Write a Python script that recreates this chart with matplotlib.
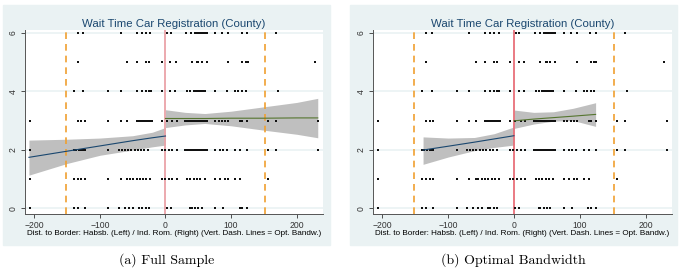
import matplotlib.pyplot as plt
from matplotlib.patches import Rectangle

plt.rcParams['font.family'] = ['Liberation Sans', 'DejaVu Sans']

# scatter: distance to border (x) for each wait-time value (y)
row_6 = [-134, -125, -68, -44, -36, -30, -23, 3, 8, 32, 39, 45, 48, 51, 54, 57, 60, 63,
         76, 86, 95, 116, 124, 168]
row_5 = [-134, -58, -44, -30, -25, -6, 7, 16, 40, 48, 50, 55, 63, 95, 117, 122, 125, 228]
row_4 = [-139, -125, -87, -68, -44, -36, -30, -25, -22, -6, 7, 15, 33, 38, 43, 46, 49, 52,
         55, 58, 60, 76, 94, 106, 111, 117, 122, 172]
row_3 = [-207, -134, -128, -123, -87, -68, -58, -44, -41, -38, -35, -32, -29, -26, -23, -21,
         -6, 2, 10, 17, 30, 33, 36, 39, 42, 45, 48, 51, 54, 57, 60, 63, 76, 81, 86, 91, 96,
         114, 117, 124, 156, 168, 232]
row_2 = [-207, -139, -136, -132, -128, -125, -123, -87, -71, -66, -62, -57, -52, -47, -42,
         -37, -32, -26, -6, -1, 5, 10, 17, 30, 33, 36, 39, 42, 45, 48, 51, 54, 57, 60, 63,
         76, 83, 88, 94, 106, 114, 124, 156, 168, 232]
row_1 = [-207, -139, -134, -128, -123, -87, -68, -58, -54, -49, -44, -39, -34, -29, -23,
         -6, -1, 5, 10, 17, 33, 38, 43, 48, 53, 60, 76, 83, 91, 96, 106, 114, 156]
row_0 = [-207, -139, -134, -123, -87, -71, -62, -55, -49, -40, -36, -30, -25, 2, 8, 38,
         40, 45, 50, 55, 76, 88, 113, 117, 124]
rows = {6: row_6, 5: row_5, 4: row_4, 3: row_3, 2: row_2, 1: row_1, 0: row_0}

bandwidth = 152

# fitted lines and confidence bands
# (a) full sample
a_left_x = [-208, -150, -100, -50, -20, 0]
a_left_fit = [1.74, 1.95, 2.13, 2.31, 2.41, 2.47]
a_left_lo = [1.13, 1.53, 1.81, 1.99, 2.10, 2.16]
a_left_hi = [2.33, 2.36, 2.40, 2.48, 2.60, 2.76]
a_right_x = [0, 30, 60, 100, 150, 200, 232]
a_right_fit = [3.07, 3.07, 3.07, 3.08, 3.08, 3.09, 3.09]
a_right_lo = [2.76, 2.85, 2.90, 2.82, 2.67, 2.53, 2.41]
a_right_hi = [3.37, 3.28, 3.24, 3.32, 3.47, 3.62, 3.76]
# (b) optimal bandwidth
b_left_x = [-138, -100, -60, -30, 0]
b_left_fit = [1.99, 2.12, 2.26, 2.37, 2.48]
b_left_lo = [1.50, 1.75, 1.97, 2.08, 2.16]
b_left_hi = [2.44, 2.40, 2.42, 2.55, 2.78]
b_right_x = [0, 30, 60, 90, 124]
b_right_fit = [2.99, 3.05, 3.10, 3.15, 3.21]
b_right_lo = [2.73, 2.88, 2.98, 3.00, 2.80]
b_right_hi = [3.36, 3.28, 3.30, 3.42, 3.61]

panels = [
    ('(a) Full Sample', a_left_x, a_left_fit, a_left_lo, a_left_hi,
     a_right_x, a_right_fit, a_right_lo, a_right_hi, '#eaa3a8'),
    ('(b) Optimal Bandwidth', b_left_x, b_left_fit, b_left_lo, b_left_hi,
     b_right_x, b_right_fit, b_right_lo, b_right_hi, '#e8707a'),
]

W, H = 685, 269
fig = plt.figure(figsize=(W / 100, H / 100), dpi=100)
bg_boxes = [(3, 5, 330, 245), (350, 5, 677, 245)]
ax_boxes = [(25, 30, 323, 214), (373, 30, 672, 214)]

for p, (cap, lx, lf, llo, lhi, rx, rf, rlo, rhi, red) in enumerate(panels):
    x0, y0, x1, y1 = bg_boxes[p]
    fig.patches.append(Rectangle((x0 / W, 1 - y1 / H), (x1 - x0) / W, (y1 - y0) / H,
                                 transform=fig.transFigure, color='#eaf2f3', zorder=-10))
    a0, b0, a1, b1 = ax_boxes[p]
    ax = fig.add_axes([a0 / W, 1 - b1 / H, (a1 - a0) / W, (b1 - b0) / H])
    ax.set_facecolor('white')
    for yv in [0, 2, 4, 6]:
        ax.axhline(yv, color='#eaf2f3', lw=1.2, zorder=0)
    ax.fill_between(lx, llo, lhi, color='#bfbfbf', lw=0, zorder=1)
    ax.fill_between(rx, rlo, rhi, color='#bfbfbf', lw=0, zorder=1)
    for yv, xs in rows.items():
        ax.scatter(xs, [yv] * len(xs), s=1.5, marker='s', color='#111111', lw=0, zorder=3)
    ax.plot(lx, lf, color='#1a476f', lw=0.8, zorder=4)
    ax.plot(rx, rf, color='#55752f', lw=0.8, zorder=4)
    ax.axvline(0, color=red, lw=1.3, zorder=2)
    for xv in [-bandwidth, bandwidth]:
        ax.axvline(xv, color='#f0a030', lw=1.2, ls=(0, (4, 3)), zorder=2)
    ax.set_xlim(-214, 240)
    ax.set_ylim(-0.2, 6.1)
    ax.set_xticks([-200, -100, 0, 100, 200])
    ax.set_yticks([0, 2, 4, 6])
    ax.set_yticklabels(['0', '2', '4', '6'], rotation=90, va='center')
    ax.tick_params(labelsize=6.2, length=3, width=0.6, colors='#333333', pad=2)
    for s in ['top', 'right']:
        ax.spines[s].set_visible(False)
    for s in ['left', 'bottom']:
        ax.spines[s].set_color('#555555')
        ax.spines[s].set_linewidth(0.7)
    ax.set_title('Wait Time Car Registration (County)', fontsize=8.2, color='#1a476f', pad=2)
    ax.set_xlabel('Dist. to Border: Habsb. (Left) / Ind. Rom. (Right) '
                  '(Vert. Dash. Lines = Opt. Bandw.)', fontsize=5.9, labelpad=0.3)
    fig.text(((x0 + x1) / 2) / W, 1 - 260 / H, cap, ha='center', va='center',
             fontsize=10, family=['cmr10', 'DejaVu Serif'])

fig.savefig('out.png', dpi=100)
